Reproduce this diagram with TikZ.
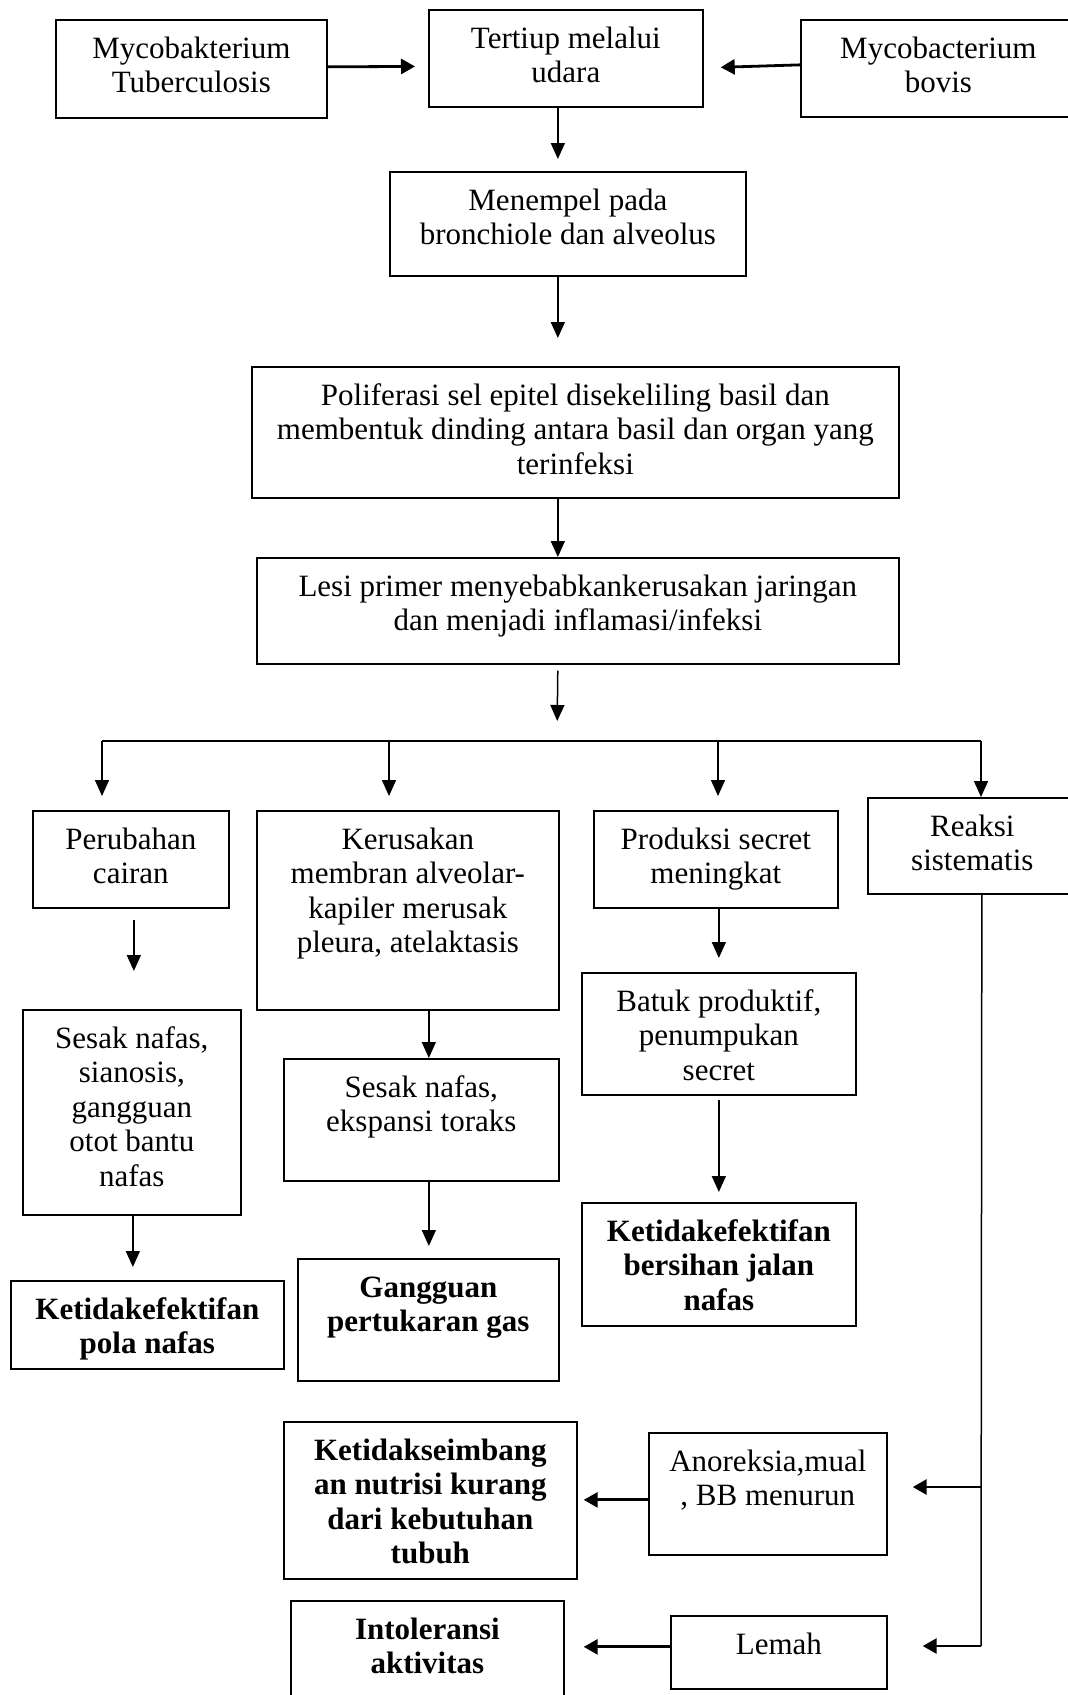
\documentclass[tikz,border=0pt]{standalone}
\usepackage{fontspec}
\setmainfont{Liberation Serif}
\usetikzlibrary{arrows.meta}
\newcommand\boxtext[3]{\parbox[c][#2][t]{#1}{\centering\rule{0pt}{38.5pt}#3}}
\begin{document}
\begin{tikzpicture}[x=1pt,y=-1pt,
  bx/.style={draw, line width=1.7pt, inner sep=0pt, anchor=north west, font=\fontsize{31}{34.5}\selectfont},
  arr/.style={line width=1.5pt, -{Triangle[length=16pt,width=14pt]}},
  tarr/.style={line width=2.8pt, -{Triangle[length=14pt,width=15pt]}},
  ln/.style={line width=1.5pt}]
\clip (0,0) rectangle (1068,1695);
\fill[white] (0,0) rectangle (1068,1695);
% boxes
\node[bx] (tub) at (55,19) {\boxtext{271pt}{98pt}{Mycobakterium\\Tuberculosis}};
\node[bx] (tert) at (428,9) {\boxtext{274pt}{97pt}{Tertiup melalui\\udara}};
\node[bx] (bov) at (800,19) {\boxtext{275pt}{97pt}{Mycobacterium\\bovis}};
\node[bx] (men) at (389,171) {\boxtext{356pt}{104pt}{Menempel pada\\bronchiole dan alveolus}};
\node[bx] (pol) at (251,366) {\boxtext{647pt}{131pt}{Poliferasi sel epitel disekeliling basil dan\\membentuk dinding antara basil dan organ yang\\terinfeksi}};
\node[bx] (lesi) at (256,557) {\boxtext{642pt}{106pt}{Lesi primer menyebabkankerusakan jaringan\\dan menjadi inflamasi/infeksi}};
\node[bx] (per) at (32,810) {\boxtext{196pt}{97pt}{Perubahan\\cairan}};
\node[bx] (ker) at (256,810) {\boxtext{302pt}{199pt}{Kerusakan\\membran alveolar-\\kapiler merusak\\pleura, atelaktasis}};
\node[bx] (pro) at (593,810) {\boxtext{244pt}{97pt}{Produksi secret\\meningkat}};
\node[bx] (rea) at (867,797) {\boxtext{209pt}{96pt}{Reaksi\\sistematis}};
\node[bx] (sesL) at (22,1009) {\boxtext{218pt}{205pt}{Sesak nafas,\\sianosis,\\gangguan\\otot bantu\\nafas}};
\node[bx] (bat) at (581,972) {\boxtext{274pt}{122pt}{Batuk produktif,\\penumpukan\\secret}};
\node[bx] (sesM) at (283,1058) {\boxtext{275pt}{122pt}{Sesak nafas,\\ekspansi toraks}};
\node[bx] (gang) at (297,1258) {\boxtext{261pt}{122pt}{\bfseries Gangguan\\pertukaran gas}};
\node[bx] (kpola) at (10,1280) {\boxtext{273pt}{88pt}{\bfseries Ketidakefektifan\\pola nafas}};
\node[bx] (kbers) at (581,1202) {\boxtext{274pt}{123pt}{\bfseries Ketidakefektifan\\bersihan jalan\\nafas}};
\node[bx] (kseim) at (283,1421) {\boxtext{293pt}{157pt}{\bfseries Ketidakseimbang\\an nutrisi kurang\\dari kebutuhan\\tubuh}};
\node[bx] (anor) at (648,1432) {\boxtext{238pt}{122pt}{Anoreksia,mual\\, BB menurun}};
\node[bx] (intol) at (290,1600) {\boxtext{273pt}{120pt}{\bfseries Intoleransi\\aktivitas}};
\node[bx] (lemah) at (670,1615) {\boxtext{216pt}{73pt}{Lemah}};
% coordinates
\coordinate (b0) at (557,741);
\coordinate (b1) at (102,741);
\coordinate (b2) at (389,741);
\coordinate (b3) at (718,741);
\coordinate (b4) at (981,741);
\coordinate (r1) at (981,1487);
\coordinate (r2) at (981,1646);
\coordinate (a1) at ([yshift=-6pt]anor.west);
\coordinate (l1) at ([yshift=5.5pt]lemah.west);
% connectors
\draw[tarr, shorten >=13pt] ([yshift=2pt]tub.east) -- ([yshift=-8pt]tert.west);
\draw[tarr, shorten >=17pt] ([yshift=3.5pt]bov.west) -- ([yshift=-9.5pt]tert.east);
\draw[arr, shorten >=12pt] ([xshift=-8pt]tert.south) -- ([xshift=-10pt]men.north);
\draw[arr, shorten >=28pt] ([xshift=-10pt]men.south) -- ([xshift=-17.5pt]pol.north);
\draw[arr] ([xshift=-17.5pt]pol.south) -- ([xshift=-20pt]lesi.north);
\draw[arr, shorten <=6pt, shorten >=20pt] ([xshift=-20pt]lesi.south) -- (b0);
\draw[ln] (b1) -- (b4);
\draw[arr, shorten >=14pt] (b1) -- (b1 |- per.north);
\draw[arr, shorten >=14pt] (b2) -- (b2 |- ker.north);
\draw[arr, shorten >=14pt] (b3) -- (b3 |- pro.north);
\draw[arr] (b4) -- (b4 |- rea.north);
\draw[arr, shorten <=11pt, shorten >=38pt] ([xshift=3pt]per.south) -- ([xshift=2pt]sesL.north);
\draw[arr] ([xshift=21pt]ker.south) -- ([xshift=7.5pt]sesM.north);
\draw[arr, shorten >=12pt] ([xshift=7.5pt]sesM.south) -- ([xshift=0.5pt]gang.north);
\draw[arr, shorten >=13pt] ([xshift=1pt]sesL.south) -- ([xshift=-14.5pt]kpola.north);
\draw[arr, shorten >=14pt] ([xshift=3pt]pro.south) -- (bat.north);
\draw[arr, shorten <=4pt, shorten >=10pt] (bat.south) -- (kbers.north);
\draw[ln] ([xshift=9.5pt]rea.south) -- (r2);
\draw[tarr, shorten >=25pt] (r1) -- (r1 -| anor.east);
\draw[tarr, shorten >=6pt] (a1) -- (a1 -| kseim.east);
\draw[tarr, shorten >=35pt] (r2) -- (r2 -| lemah.east);
\draw[tarr, shorten >=19pt] (l1) -- (l1 -| intol.east);
\end{tikzpicture}
\end{document}
